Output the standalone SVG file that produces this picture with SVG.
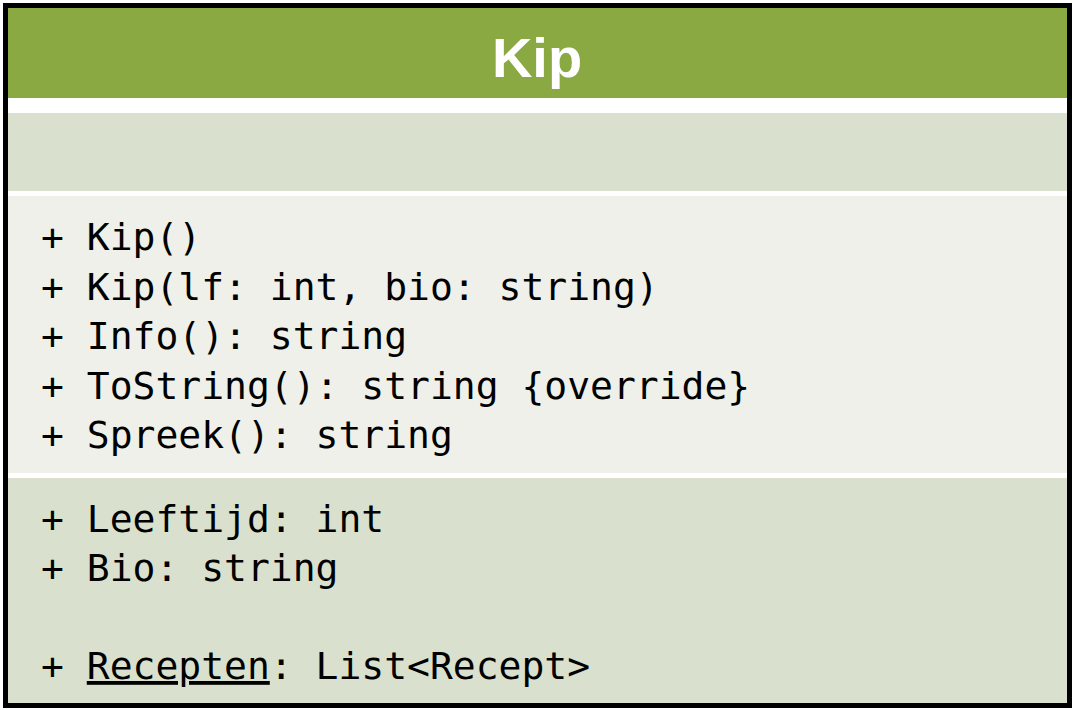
<svg xmlns="http://www.w3.org/2000/svg" width="1075" height="710" viewBox="0 0 1075 710">
  <style>
    .title { font-family: "Liberation Sans", Arial, sans-serif; font-weight: bold; font-size: 56px; fill: #ffffff; }
    .member { font-family: "DejaVu Sans Mono", "Liberation Mono", monospace; font-size: 38px; fill: #000000; white-space: pre; }
    .head { fill: #8AA942; }
    .band { fill: #D9E0CD; }
    .ops { fill: #EEF0E9; }
  </style>
  <rect width="1075" height="710" fill="#ffffff"/>
  <g id="Kip">
    <!-- class name -->
    <rect class="head" x="8" y="8" width="1059" height="90"/>
    <text class="title" x="537" y="77" text-anchor="middle">Kip</text>
    <!-- empty compartment -->
    <rect class="band" x="8" y="113" width="1059" height="78"/>
    <!-- operations -->
    <rect class="ops" x="8" y="196" width="1059" height="277"/>
    <text class="member" x="41" y="250">+ Kip()</text>
    <text class="member" x="41" y="299.5">+ Kip(lf: int, bio: string)</text>
    <text class="member" x="41" y="349">+ Info(): string</text>
    <text class="member" x="41" y="398.5">+ ToString(): string {override}</text>
    <text class="member" x="41" y="448">+ Spreek(): string</text>
    <!-- properties -->
    <rect class="band" x="8" y="478" width="1059" height="225"/>
    <text class="member" x="41" y="532">+ Leeftijd: int</text>
    <text class="member" x="41" y="581">+ Bio: string</text>
    <text class="member" x="41" y="679">+ <tspan text-decoration="underline">Recepten</tspan>: List&lt;Recept&gt;</text>
    <!-- outline -->
    <rect x="5.5" y="5.5" width="1064" height="700" fill="none" stroke="#000000" stroke-width="5"/>
  </g>
</svg>
